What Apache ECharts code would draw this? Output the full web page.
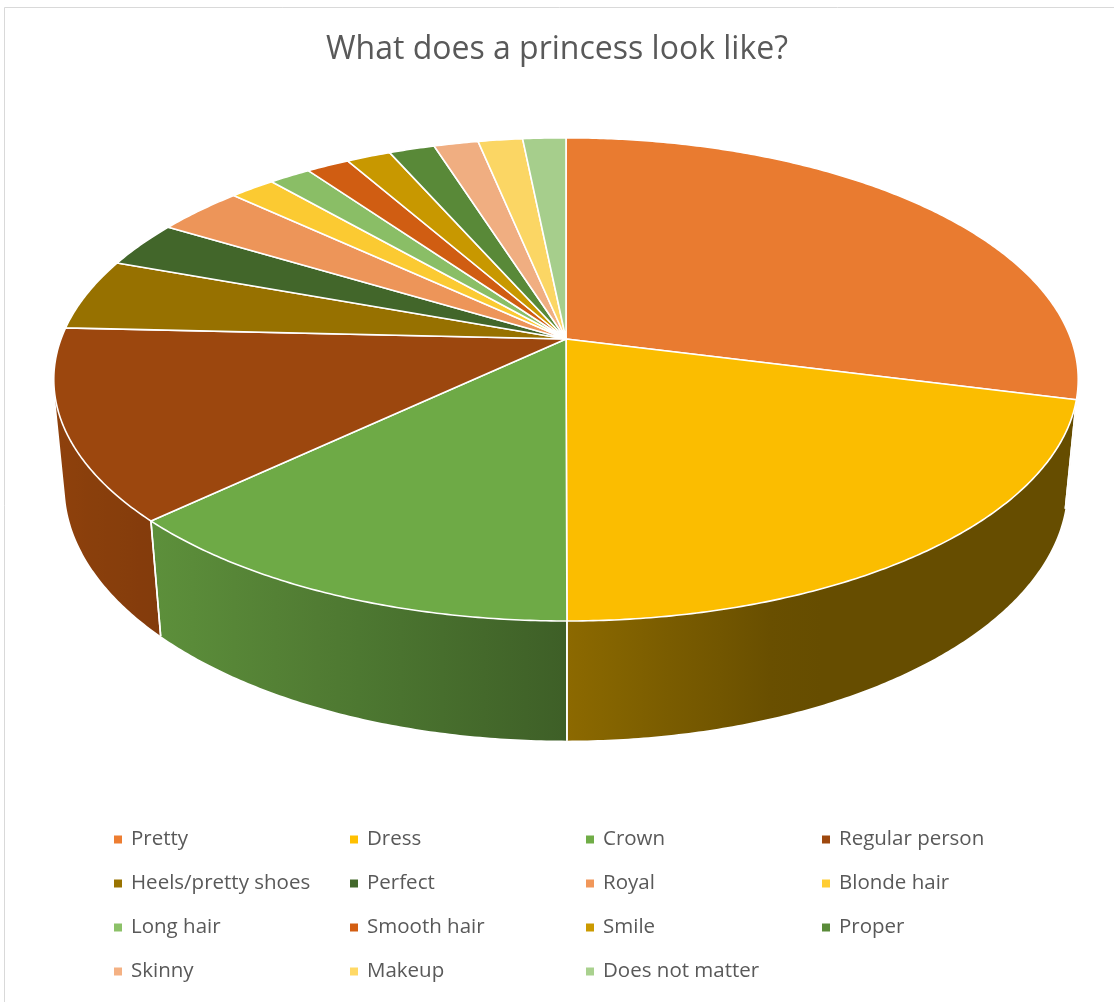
<!DOCTYPE html>
<html><head><meta charset="utf-8">
<script src="https://cdn.jsdelivr.net/npm/echarts@6/dist/echarts.min.js"></script>
<style>html,body{margin:0;padding:0;background:#fff}#chart{width:1114px;height:1002px}</style>
</head><body><div id="chart"></div>
<script>
const titleText = 'What does a princess look like?';
const categories = ['Pretty','Dress','Crown','Regular person','Heels/pretty shoes','Perfect','Royal','Blonde hair','Long hair','Smooth hair','Smile','Proper','Skinny','Makeup','Does not matter'];
const shares = [29.0, 21.0, 13.0, 12.8, 4.8, 3.1, 3.25, 1.7, 1.55, 1.6, 1.65, 1.7, 1.65, 1.65, 1.6];
const colors = ['#ED7D31','#FFC000','#70AD47','#9E480E','#997300','#43682B','#F1975A','#FFCD33','#8CC168','#D35E12','#CB9A00','#5A8B39','#F4B183','#FFD966','#A9D18E'];

// perspective geometry of the 3D pie
const CX = 566, CY = 339, S = 505, D0 = 5.29, SINP = 0.465, COSP = 0.885, H = 0.242;
function proj(theta, y) {
  const X = Math.sin(theta), Z = -Math.cos(theta);
  const down = -y * COSP + Z * SINP;
  const depth = D0 - y * SINP - Z * COSP;
  const F = S * D0;
  return [CX + F * X / depth, CY + F * down / depth];
}
const TV = Math.acos(-1 / (D0 * COSP));
function shade(hex, f) {
  const n = parseInt(hex.slice(1), 16);
  const r = Math.round(((n >> 16) & 255) * f), g = Math.round(((n >> 8) & 255) * f), b = Math.round((n & 255) * f);
  return 'rgb(' + Math.min(255, r) + ',' + Math.min(255, g) + ',' + Math.min(255, b) + ')';
}
function wallF(x) { return Math.max(0.40, Math.min(0.90, 0.55 - 0.00068 * (x - 566))); }

const total = shares.reduce((a, b) => a + b, 0);
const cum = [];
shares.reduce((acc, v, i) => { cum[i] = acc; return acc + v; }, 0);
const sliceData = shares.map((v, i) => ({ name: categories[i], value: [v, cum[i]] }));

function renderItem(params, api) {
  const v = api.value(0), start = api.value(1);
  const a0 = start / total * 2 * Math.PI, a1 = (start + v) / total * 2 * Math.PI;
  const col = colors[params.dataIndex];
  const children = [];
  const step = Math.PI / 360;
  // top face
  const n = Math.max(2, Math.ceil((a1 - a0) / step));
  const pts = [[CX, CY]];
  for (let i = 0; i <= n; i++) pts.push(proj(a0 + (a1 - a0) * i / n, 0));
  children.push({ type: 'polygon', z2: 10, shape: { points: pts },
    style: { fill: shade(col, 0.985), stroke: '#fff', lineWidth: 1.6, lineJoin: 'round' } });
  // visible outer wall
  const w0 = Math.max(a0, TV), w1 = Math.min(a1, 2 * Math.PI - TV);
  if (w1 > w0) {
    const m = Math.max(2, Math.ceil((w1 - w0) / step));
    const topPts = [], botPts = [];
    for (let i = 0; i <= m; i++) {
      const t = w0 + (w1 - w0) * i / m;
      topPts.push(proj(t, 0));
      botPts.push(proj(t, -H));
    }
    const wall = topPts.concat(botPts.reverse());
    let xmin = Infinity, xmax = -Infinity;
    wall.forEach(p => { xmin = Math.min(xmin, p[0]); xmax = Math.max(xmax, p[0]); });
    const stops = [];
    for (let i = 0; i <= 10; i++) {
      const x = xmin + (xmax - xmin) * i / 10;
      stops.push({ offset: i / 10, color: shade(col, wallF(x)) });
    }
    children.push({ type: 'polygon', z2: 1, shape: { points: wall },
      style: { fill: new echarts.graphic.LinearGradient(xmin, 0, xmax, 0, stops, true) } });
    [a0, a1].forEach(a => {
      if (a > TV && a < 2 * Math.PI - TV) {
        const p = proj(a, 0), q = proj(a, -H);
        children.push({ type: 'line', z2: 5, shape: { x1: p[0], y1: p[1], x2: q[0], y2: q[1] },
          style: { stroke: '#fff', lineWidth: 1.6 } });
      }
    });
  }
  return { type: 'group', children };
}

const chart = echarts.init(document.getElementById('chart'), null, { renderer: 'canvas' });
chart.setOption({
  backgroundColor: '#fff',
  animation: false,
  graphic: [{ type: 'rect', silent: true, z: -1, shape: { x: 4.5, y: 7.5, width: 1200, height: 1100 },
    style: { fill: 'none', stroke: '#D9D9D9', lineWidth: 1 } }],
  title: { text: titleText, left: 'center', top: 29,
    textStyle: { fontFamily: 'Open Sans', fontWeight: 'normal', fontSize: 32, color: '#595959' } },
  legend: { data: categories, left: 109, top: 824, width: 960, orient: 'horizontal',
    icon: 'rect', itemWidth: 8, itemHeight: 8, itemGap: 23, selectedMode: false,
    textStyle: { fontFamily: 'Open Sans', fontSize: 20.5, color: '#595959', width: 196, lineHeight: 20, padding: [0, 0, 0, 4] } },
  series: [
    { type: 'pie', radius: 0, center: [-50, -50], silent: true, label: { show: false },
      data: categories.map((c, i) => ({ name: c, value: shares[i], itemStyle: { color: colors[i] } })) },
    { type: 'custom', name: 'slices', coordinateSystem: 'none', silent: true, renderItem, data: sliceData }
  ]
});
</script></body></html>
